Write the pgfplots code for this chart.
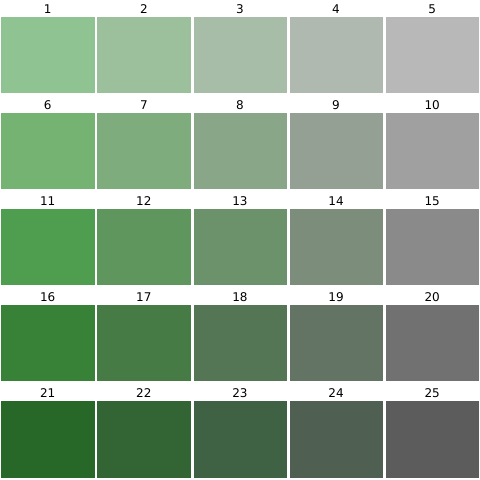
\documentclass[border=0pt]{standalone}
\usepackage{pgfplots}
\pgfplotsset{compat=1.18}
\usepackage{fontspec}
\setmainfont{DejaVu Sans}
% palette, row by row
\definecolor{c1}{RGB}{143,195,146}
\definecolor{c2}{RGB}{155,192,155}
\definecolor{c3}{RGB}{167,189,167}
\definecolor{c4}{RGB}{176,185,176}
\definecolor{c5}{RGB}{184,184,184}
\definecolor{c6}{RGB}{116,179,114}
\definecolor{c7}{RGB}{126,172,124}
\definecolor{c8}{RGB}{137,166,136}
\definecolor{c9}{RGB}{148,160,148}
\definecolor{c10}{RGB}{160,160,160}
\definecolor{c11}{RGB}{79,157,79}
\definecolor{c12}{RGB}{94,150,94}
\definecolor{c13}{RGB}{108,146,108}
\definecolor{c14}{RGB}{124,141,124}
\definecolor{c15}{RGB}{138,138,138}
\definecolor{c16}{RGB}{56,130,56}
\definecolor{c17}{RGB}{70,123,70}
\definecolor{c18}{RGB}{84,118,84}
\definecolor{c19}{RGB}{100,116,100}
\definecolor{c20}{RGB}{113,113,113}
\definecolor{c21}{RGB}{39,104,40}
\definecolor{c22}{RGB}{50,100,52}
\definecolor{c23}{RGB}{64,98,68}
\definecolor{c24}{RGB}{79,96,83}
\definecolor{c25}{RGB}{92,92,92}

\begin{document}
\begin{tikzpicture}
\begin{axis}[
  x=1pt, y=1pt,
  xmin=0, xmax=480, ymin=0, ymax=480,
  y dir=reverse,
  hide axis,
  clip=false,
  every axis plot/.append style={draw=white, line width=0.3pt},
]
% row 1
\addplot[fill=c1]  coordinates {(0.5,16) (95.0,16) (95.0,93.3) (0.5,93.3)} -- cycle;
\addplot[fill=c2]  coordinates {(96.6,16) (191.1,16) (191.1,93.3) (96.6,93.3)} -- cycle;
\addplot[fill=c3]  coordinates {(192.7,16) (287.2,16) (287.2,93.3) (192.7,93.3)} -- cycle;
\addplot[fill=c4]  coordinates {(288.8,16) (383.3,16) (383.3,93.3) (288.8,93.3)} -- cycle;
\addplot[fill=c5]  coordinates {(384.9,16) (479.4,16) (479.4,93.3) (384.9,93.3)} -- cycle;
% row 2
\addplot[fill=c6]  coordinates {(0.5,112.1) (95.0,112.1) (95.0,189.4) (0.5,189.4)} -- cycle;
\addplot[fill=c7]  coordinates {(96.6,112.1) (191.1,112.1) (191.1,189.4) (96.6,189.4)} -- cycle;
\addplot[fill=c8]  coordinates {(192.7,112.1) (287.2,112.1) (287.2,189.4) (192.7,189.4)} -- cycle;
\addplot[fill=c9]  coordinates {(288.8,112.1) (383.3,112.1) (383.3,189.4) (288.8,189.4)} -- cycle;
\addplot[fill=c10] coordinates {(384.9,112.1) (479.4,112.1) (479.4,189.4) (384.9,189.4)} -- cycle;
% row 3
\addplot[fill=c11] coordinates {(0.5,208.2) (95.0,208.2) (95.0,285.5) (0.5,285.5)} -- cycle;
\addplot[fill=c12] coordinates {(96.6,208.2) (191.1,208.2) (191.1,285.5) (96.6,285.5)} -- cycle;
\addplot[fill=c13] coordinates {(192.7,208.2) (287.2,208.2) (287.2,285.5) (192.7,285.5)} -- cycle;
\addplot[fill=c14] coordinates {(288.8,208.2) (383.3,208.2) (383.3,285.5) (288.8,285.5)} -- cycle;
\addplot[fill=c15] coordinates {(384.9,208.2) (479.4,208.2) (479.4,285.5) (384.9,285.5)} -- cycle;
% row 4
\addplot[fill=c16] coordinates {(0.5,304.3) (95.0,304.3) (95.0,381.6) (0.5,381.6)} -- cycle;
\addplot[fill=c17] coordinates {(96.6,304.3) (191.1,304.3) (191.1,381.6) (96.6,381.6)} -- cycle;
\addplot[fill=c18] coordinates {(192.7,304.3) (287.2,304.3) (287.2,381.6) (192.7,381.6)} -- cycle;
\addplot[fill=c19] coordinates {(288.8,304.3) (383.3,304.3) (383.3,381.6) (288.8,381.6)} -- cycle;
\addplot[fill=c20] coordinates {(384.9,304.3) (479.4,304.3) (479.4,381.6) (384.9,381.6)} -- cycle;
% row 5
\addplot[fill=c21] coordinates {(0.5,400.4) (95.0,400.4) (95.0,477.7) (0.5,477.7)} -- cycle;
\addplot[fill=c22] coordinates {(96.6,400.4) (191.1,400.4) (191.1,477.7) (96.6,477.7)} -- cycle;
\addplot[fill=c23] coordinates {(192.7,400.4) (287.2,400.4) (287.2,477.7) (192.7,477.7)} -- cycle;
\addplot[fill=c24] coordinates {(288.8,400.4) (383.3,400.4) (383.3,477.7) (288.8,477.7)} -- cycle;
\addplot[fill=c25] coordinates {(384.9,400.4) (479.4,400.4) (479.4,477.7) (384.9,477.7)} -- cycle;
% titles
\foreach \r in {0,...,4}{
  \foreach \c in {0,...,4}{
    \pgfmathtruncatemacro{\n}{5*\r+\c+1}
    \pgfmathsetmacro{\xx}{47.75+96.1*\c}
    \pgfmathsetmacro{\yy}{13.3+96.1*\r}
    \edef\temp{\noexpand\node[anchor=base, font=\noexpand\fontsize{12}{14}\noexpand\selectfont, inner sep=0pt] at (axis cs:\xx,\yy) {\n};}
    \temp
  }
}
\end{axis}
% keep the whole 480 x 480 canvas
\path[use as bounding box] (current axis.south west) rectangle (current axis.north east);
\end{tikzpicture}
\end{document}
